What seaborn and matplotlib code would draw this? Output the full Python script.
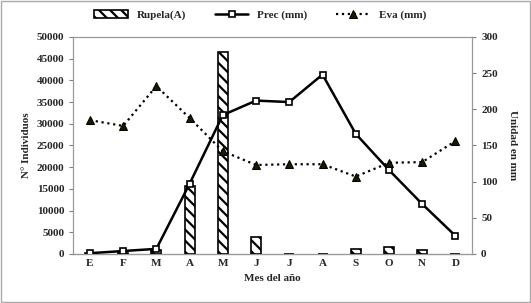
import matplotlib
matplotlib.use('Agg')
import matplotlib.pyplot as plt
import seaborn as sns
import pandas as pd
import numpy as np

meses = ['E', 'F', 'M', 'A', 'M', 'J', 'J', 'A', 'S', 'O', 'N', 'D']
rupela = [100, 150, 800, 15700, 46500, 3900, 0, 0, 1100, 1500, 900, 0]
prec = [1, 4, 7, 97, 192, 212, 210, 248, 166, 116, 69, 25]
eva = [185, 177, 232, 188, 142, 123, 124, 124, 107, 126, 127, 156]

df = pd.DataFrame({'idx': np.arange(len(meses)), 'mes': meses,
                   'rupela': rupela, 'prec': prec, 'eva': eva})

sns.set_style('white')
plt.rcParams['font.family'] = ['Liberation Serif', 'DejaVu Serif']
plt.rcParams['font.weight'] = 'bold'
plt.rcParams['hatch.linewidth'] = 1.6

fig, ax = plt.subplots(figsize=(5.31, 3.03), dpi=100)
fig.subplots_adjust(left=0.138, right=0.889, top=0.878, bottom=0.162)

sns.barplot(data=df, x='idx', y='rupela', ax=ax, width=0.3, color='white',
            edgecolor='black', linewidth=1.2, hatch='\\\\\\', label='Rupela(A)')
ax.set_ylim(0, 50000)
ax.set_xlim(-0.5, 11.5)
ax.set_yticks(np.arange(0, 50001, 5000))
ax.set_xticks(np.arange(12))
ax.set_xticklabels(meses)
ax.set_xlabel('Mes del año', fontsize=8, fontweight='bold')
ax.set_ylabel('N° Individuos', fontsize=8, fontweight='bold')
ax.tick_params(axis='both', labelsize=8, length=3, direction='out', color='gray')
ax.tick_params(axis='x', length=0, pad=4)
ax.set_xticks(np.arange(-0.5, 12, 1), minor=True)
ax.tick_params(axis='x', which='minor', length=3, color='gray')
ax.yaxis.set_ticks_position('left')

ax2 = ax.twinx()
sns.lineplot(data=df, x='idx', y='prec', ax=ax2, color='black', linewidth=1.8,
             marker='s', markersize=5, markerfacecolor='white',
             markeredgecolor='black', markeredgewidth=1.2, label='Prec (mm)')
sns.lineplot(data=df, x='idx', y='eva', ax=ax2, color='black', linewidth=1.6,
             linestyle=':', marker='^', markersize=6, markerfacecolor='#1a1a00',
             markeredgecolor='black', label='Eva (mm)')
ax2.set_ylim(0, 300)
ax2.set_yticks(np.arange(0, 301, 50))
ax2.set_ylabel('Unidad en mm', fontsize=8, fontweight='bold', rotation=270, labelpad=14)
ax2.tick_params(axis='y', labelsize=8, length=3, direction='out', color='gray')
ax2.set_xlim(-0.5, 11.5)

for a in (ax, ax2):
    for s in a.spines.values():
        s.set_color('#999999')
        s.set_linewidth(0.8)
ax.spines['bottom'].set_color('black')

h1, l1 = ax.get_legend_handles_labels()
h2, l2 = ax2.get_legend_handles_labels()
if ax2.get_legend():
    ax2.get_legend().remove()
if ax.get_legend():
    ax.get_legend().remove()
fig.legend(h1 + h2, l1 + l2, loc='upper center', ncol=3, frameon=False,
           bbox_to_anchor=(0.49, 1.0), columnspacing=2.6,
           handlelength=3.0, prop={'weight': 'bold', 'size': 8})

fig.patches.append(plt.Rectangle((0.002, 0.002), 0.996, 0.996, transform=fig.transFigure,
                                 fill=False, edgecolor='#aaaaaa', linewidth=1))

fig.savefig('out.png', dpi=100)
